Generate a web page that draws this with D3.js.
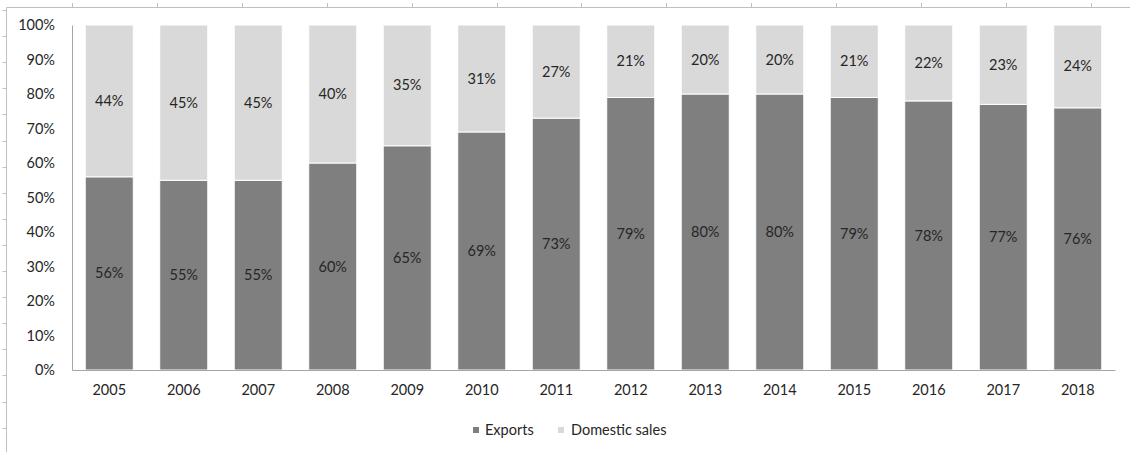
<!DOCTYPE html>
<html>
<head>
<meta charset="utf-8">
<script src="https://cdn.jsdelivr.net/npm/d3@7"></script>
<style>
  html, body { margin: 0; padding: 0; background: #fff; }
  svg { display: block; }
  text { font-family: Lato, "Open Sans", sans-serif; fill: #262626; }
</style>
</head>
<body>
<svg id="chart" width="1130" height="452"></svg>
<script>
// Share of production sold as exports vs. domestically, by year
const years = ["2005","2006","2007","2008","2009","2010","2011","2012","2013","2014","2015","2016","2017","2018"];
const exportsShare = [56, 55, 55, 60, 65, 69, 73, 79, 80, 80, 79, 78, 77, 76];
const domesticShare = [44, 45, 45, 40, 35, 31, 27, 21, 20, 20, 21, 22, 23, 24];
const seriesNames = ["Exports", "Domestic sales"];
const yTicks = [0, 10, 20, 30, 40, 50, 60, 70, 80, 90, 100];

const colors = { "Exports": "#7f7f7f", "Domestic sales": "#d9d9d9" };
const FS = 14.5;

const svg = d3.select("#chart");
const W = 1130, H = 452;
const margin = { left: 72, right: 15, top: 25, bottom: 82 };

// Outer frame with small ruler ticks along the top and left edges
const frame = svg.append("g").attr("stroke", "#bfbfbf").attr("stroke-width", 1);
frame.append("line").attr("x1", 6.5).attr("x2", W).attr("y1", 7.5).attr("y2", 7.5);
frame.append("line").attr("x1", 6.5).attr("x2", 6.5).attr("y1", 7.5).attr("y2", H);
d3.range(72, W, 84.9).forEach(x => {
  frame.append("line").attr("x1", Math.round(x) + 0.5).attr("x2", Math.round(x) + 0.5).attr("y1", 3).attr("y2", 7.5);
});
d3.range(10, H, 26.1).forEach(y => {
  frame.append("line").attr("x1", 2.5).attr("x2", 6.5).attr("y1", Math.round(y) + 0.5).attr("y2", Math.round(y) + 0.5);
});

const x = d3.scaleBand()
  .domain(years)
  .range([margin.left, W - margin.right])
  .paddingInner(0.355)
  .paddingOuter(0.1775);

const y = d3.scaleLinear()
  .domain([0, 100])
  .range([H - margin.bottom, margin.top]);

const rows = years.map((yr, i) => ({ year: yr, "Exports": exportsShare[i], "Domestic sales": domesticShare[i] }));
const stacked = d3.stack().keys(seriesNames)(rows);

const layers = svg.append("g").selectAll("g")
  .data(stacked)
  .join("g")
  .attr("fill", d => colors[d.key]);

layers.selectAll("rect")
  .data(d => d)
  .join("rect")
  .attr("x", d => x(d.data.year))
  .attr("width", x.bandwidth())
  .attr("y", d => y(d[1]))
  .attr("height", d => y(d[0]) - y(d[1]))
  .attr("stroke", "#fff")
  .attr("stroke-width", 1);

// Value labels centred in each segment
layers.selectAll("text")
  .data(d => d.map(p => ({ p, key: d.key })))
  .join("text")
  .attr("x", d => x(d.p.data.year) + x.bandwidth() / 2)
  .attr("y", d => y((d.p[0] + d.p[1]) / 2))
  .attr("dy", "0.35em")
  .attr("text-anchor", "middle")
  .attr("font-size", FS)
  .text(d => d.p.data[d.key] + "%");

// Y axis
const yAxis = svg.append("g")
  .attr("transform", `translate(${margin.left},0)`)
  .call(d3.axisLeft(y).tickValues(yTicks).tickFormat(d => d + "%").tickSize(0).tickPadding(17));
yAxis.select(".domain").attr("stroke", "#a6a6a6");
yAxis.selectAll("text").attr("font-size", FS).style("font-family", "Lato, sans-serif").attr("fill", "#262626");

// X axis
const xAxis = svg.append("g")
  .attr("transform", `translate(0,${H - margin.bottom})`)
  .call(d3.axisBottom(x).tickSize(0).tickPadding(15).tickSizeOuter(0));
xAxis.select(".domain").attr("stroke", "#a6a6a6");
xAxis.selectAll("text").attr("font-size", FS).style("font-family", "Lato, sans-serif").attr("fill", "#262626");

// Legend
const legendItems = [
  { key: "Exports", sx: 473, tx: 485 },
  { key: "Domestic sales", sx: 558, tx: 571 }
];
const legend = svg.append("g");
legendItems.forEach(it => {
  legend.append("rect").attr("x", it.sx).attr("y", 427).attr("width", 6).attr("height", 6).attr("fill", colors[it.key]);
  legend.append("text").attr("x", it.tx).attr("y", 430).attr("dy", "0.35em").attr("font-size", FS).text(it.key);
});
</script>
</body>
</html>
